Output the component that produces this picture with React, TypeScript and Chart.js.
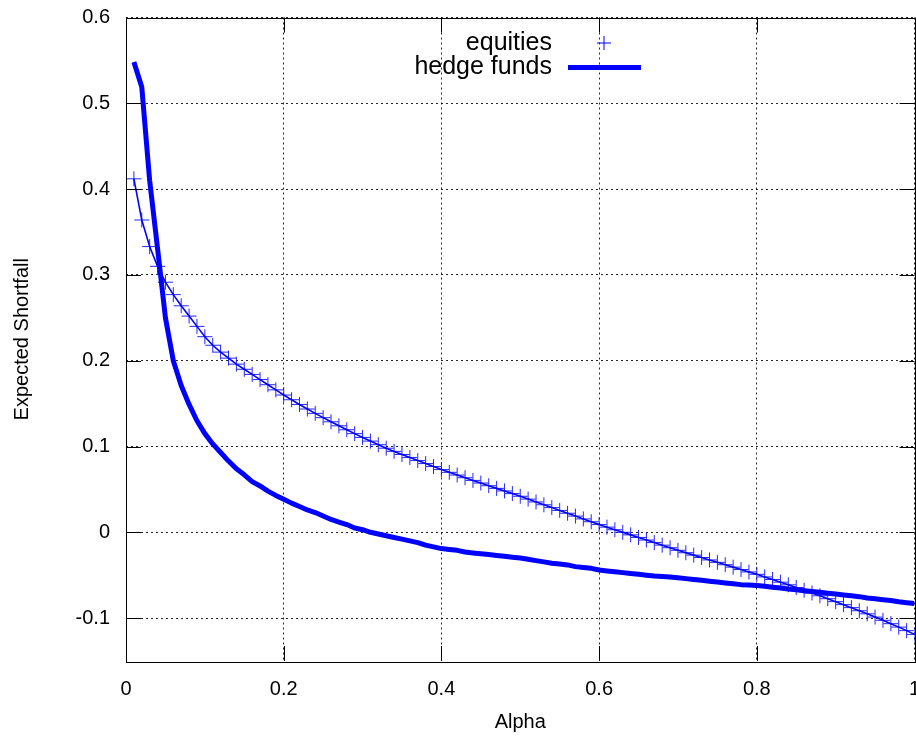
import React, { useEffect, useRef } from 'react';
import { Chart, registerables } from 'chart.js';

Chart.register(...registerables);

const alpha = [
  0.01, 0.02, 0.03, 0.04, 0.05, 0.06, 0.07, 0.08, 0.09, 0.10,
  0.11, 0.12, 0.13, 0.14, 0.15, 0.16, 0.17, 0.18, 0.19, 0.20,
  0.21, 0.22, 0.23, 0.24, 0.25, 0.26, 0.27, 0.28, 0.29, 0.30,
  0.31, 0.32, 0.33, 0.34, 0.35, 0.36, 0.37, 0.38, 0.39, 0.40,
  0.41, 0.42, 0.43, 0.44, 0.45, 0.46, 0.47, 0.48, 0.49, 0.50,
  0.51, 0.52, 0.53, 0.54, 0.55, 0.56, 0.57, 0.58, 0.59, 0.60,
  0.61, 0.62, 0.63, 0.64, 0.65, 0.66, 0.67, 0.68, 0.69, 0.70,
  0.71, 0.72, 0.73, 0.74, 0.75, 0.76, 0.77, 0.78, 0.79, 0.80,
  0.81, 0.82, 0.83, 0.84, 0.85, 0.86, 0.87, 0.88, 0.89, 0.90,
  0.91, 0.92, 0.93, 0.94, 0.95, 0.96, 0.97, 0.98, 0.99, 1.00,
];

const equities = [
  0.412, 0.364, 0.333, 0.310, 0.2915, 0.277, 0.264, 0.252, 0.240, 0.228,
  0.218, 0.210, 0.203, 0.196, 0.190, 0.184, 0.178, 0.172, 0.166, 0.160,
  0.1545, 0.149, 0.1437, 0.1386, 0.1336, 0.1288, 0.1241, 0.1195, 0.115, 0.1106,
  0.1063, 0.1021, 0.098, 0.0943, 0.0907, 0.0871, 0.0836, 0.0801, 0.0766, 0.0731,
  0.0699, 0.0667, 0.0636, 0.0605, 0.0574, 0.0543, 0.0512, 0.0482, 0.0451, 0.042,
  0.0387, 0.0354, 0.0321, 0.0288, 0.0255, 0.0222, 0.0189, 0.0156, 0.0123, 0.009,
  0.006, 0.003, 0.0, -0.003, -0.006, -0.009, -0.012, -0.015, -0.018, -0.021,
  -0.0238, -0.0266, -0.0294, -0.0322, -0.035, -0.0378, -0.0406, -0.0434, -0.0462, -0.049,
  -0.052, -0.055, -0.0581, -0.0612, -0.0643, -0.0675, -0.0707, -0.074, -0.0774, -0.0808,
  -0.0843, -0.0878, -0.0914, -0.095, -0.0988, -0.1026, -0.1065, -0.1105, -0.1146, -0.119,
];

const hedgeFunds = [
  0.548, 0.519, 0.41, 0.331, 0.25, 0.2, 0.171, 0.149, 0.130, 0.115,
  0.103, 0.093, 0.083, 0.074, 0.067, 0.059, 0.054, 0.048, 0.043, 0.0385,
  0.034, 0.03, 0.026, 0.023, 0.019, 0.015, 0.012, 0.009, 0.005, 0.003,
  0.0, -0.002, -0.004, -0.006, -0.008, -0.010, -0.012, -0.015, -0.017, -0.019,
  -0.020, -0.021, -0.023, -0.024, -0.025, -0.026, -0.027, -0.028, -0.029, -0.030,
  -0.0315, -0.033, -0.0345, -0.036, -0.037, -0.038, -0.040, -0.041, -0.042, -0.044,
  -0.045, -0.046, -0.047, -0.048, -0.049, -0.050, -0.051, -0.0515, -0.052, -0.053,
  -0.054, -0.055, -0.056, -0.057, -0.058, -0.059, -0.060, -0.061, -0.0615, -0.062,
  -0.063, -0.064, -0.065, -0.066, -0.067, -0.068, -0.069, -0.070, -0.071, -0.072,
  -0.073, -0.074, -0.075, -0.0765, -0.0775, -0.0785, -0.0795, -0.081, -0.082, -0.083,
];

const xTicks = [0, 0.2, 0.4, 0.6, 0.8, 1];
const xTickLabels = ['0', '0.2', '0.4', '0.6', '0.8', '1'];
const yTicks = [-0.1, 0, 0.1, 0.2, 0.3, 0.4, 0.5, 0.6];
const yTickLabels = ['-0.1', '0', '0.1', '0.2', '0.3', '0.4', '0.5', '0.6'];
const seriesNames = ['equities', 'hedge funds'];
const xTitle = 'Alpha';
const yTitle = 'Expected Shortfall';

const FONT = '"Liberation Sans", Arial, sans-serif';
const BLUE = '#0000ff';

const zeroPad = () => ({ left: 0, top: 0, right: 0, bottom: 0 });

const framePlugin = {
  id: 'gnuFrame',
  afterDatasetsDraw(chart: any) {
    const { ctx, chartArea: a, scales } = chart;
    ctx.save();
    ctx.strokeStyle = '#000';
    ctx.lineWidth = 1;
    const L = 15;
    ctx.beginPath();
    scales.x.ticks.forEach((t: any) => {
      const px = Math.round(scales.x.getPixelForValue(t.value)) + 0.5;
      ctx.moveTo(px, a.bottom);
      ctx.lineTo(px, a.bottom - L);
      ctx.moveTo(px, a.top);
      ctx.lineTo(px, a.top + L);
    });
    scales.y.ticks.forEach((t: any) => {
      const py = Math.round(scales.y.getPixelForValue(t.value)) + 0.5;
      ctx.moveTo(a.left, py);
      ctx.lineTo(a.left + L, py);
      ctx.moveTo(a.right, py);
      ctx.lineTo(a.right - L, py);
    });
    ctx.stroke();
    ctx.strokeRect(Math.round(a.left) + 0.5, Math.round(a.top) + 0.5,
      Math.round(a.right - a.left), Math.round(a.bottom - a.top));

    // legend (gnuplot style: right-aligned text, sample on the right)
    const ds = chart.data.datasets;
    ctx.font = `25px ${FONT}`;
    ctx.fillStyle = '#000';
    ctx.textAlign = 'right';
    ctx.textBaseline = 'middle';
    const textRight = 552;
    const rowY = [43, 67];
    ctx.fillText(ds[0].label, textRight, rowY[0]);
    ctx.fillText(ds[1].label, textRight, rowY[1]);
    ctx.strokeStyle = BLUE;
    ctx.lineWidth = 1;
    ctx.beginPath();
    ctx.moveTo(604 - 7, rowY[0]);
    ctx.lineTo(604 + 7, rowY[0]);
    ctx.moveTo(604, rowY[0] - 7);
    ctx.lineTo(604, rowY[0] + 7);
    ctx.stroke();
    ctx.lineWidth = 5;
    ctx.beginPath();
    ctx.moveTo(568, rowY[1] + 0.5);
    ctx.lineTo(641, rowY[1] + 0.5);
    ctx.stroke();
    ctx.restore();
  },
};

export default function App() {
  const ref = useRef<HTMLCanvasElement | null>(null);

  useEffect(() => {
    if (!ref.current) return;
    Chart.defaults.font.family = FONT;
    Chart.defaults.color = '#000';
    const chart = new Chart(ref.current, {
      type: 'line',
      data: {
        datasets: [
          {
            label: seriesNames[0],
            data: alpha.map((a, i) => ({ x: a, y: equities[i] })),
            borderColor: BLUE,
            backgroundColor: BLUE,
            borderWidth: 1.6,
            pointStyle: 'cross',
            pointRadius: 7.5,
            pointBorderWidth: 1,
            pointBorderColor: 'rgba(0,0,255,0.85)',
            tension: 0,
            fill: false,
          },
          {
            label: seriesNames[1],
            data: alpha.map((a, i) => ({ x: a, y: hedgeFunds[i] })),
            borderColor: BLUE,
            backgroundColor: BLUE,
            borderWidth: 5,
            pointRadius: 0,
            tension: 0,
            fill: false,
            borderJoinStyle: 'round',
            borderCapStyle: 'butt',
          },
        ],
      },
      options: {
        responsive: false,
        animation: false,
        events: [],
        layout: { autoPadding: false, padding: { left: 0, top: 17.5, right: 1.5, bottom: 0 } },
        plugins: {
          legend: { display: false },
          tooltip: { enabled: false },
        },
        scales: {
          x: {
            type: 'linear',
            min: 0,
            max: 1,
            afterBuildTicks: (s: any) => { s.ticks = xTicks.map((v) => ({ value: v })); },
            afterFit: (s: any) => {
              s.height = 79; s.paddingLeft = 0; s.paddingRight = 0; s.getPadding = zeroPad;
            },
            ticks: {
              callback: (_v: any, i: number) => xTickLabels[i],
              font: { size: 20 },
              color: '#000',
              padding: 16,
              maxRotation: 0,
              autoSkip: false,
            },
            grid: { color: 'rgba(0,0,0,0.85)', lineWidth: 1, drawTicks: false },
            border: { display: false, dash: [2, 3] },
            title: { display: true, text: xTitle, font: { size: 20 }, color: '#000', padding: { top: 0, bottom: 6 } },
          },
          y: {
            type: 'linear',
            min: -0.15,
            max: 0.6,
            afterBuildTicks: (s: any) => { s.ticks = yTicks.map((v) => ({ value: v })); },
            afterFit: (s: any) => {
              s.width = 126; s.paddingTop = 0; s.paddingBottom = 0; s.getPadding = zeroPad;
            },
            ticks: {
              callback: (_v: any, i: number) => yTickLabels[i],
              font: { size: 20 },
              color: '#000',
              padding: 16,
              autoSkip: false,
            },
            grid: { color: 'rgba(0,0,0,0.85)', lineWidth: 1, drawTicks: false },
            border: { display: false, dash: [2, 3] },
            title: { display: true, text: yTitle, font: { size: 20 }, color: '#000', padding: { top: 10, bottom: 0 } },
          },
        },
      },
      plugins: [framePlugin],
    });
    return () => chart.destroy();
  }, []);

  return (
    <div style={{ position: 'absolute', left: 0, top: 0, width: 916, height: 740, background: '#fff' }}>
      <canvas ref={ref} width={916} height={740} style={{ width: 916, height: 740, display: 'block' }} />
    </div>
  );
}
